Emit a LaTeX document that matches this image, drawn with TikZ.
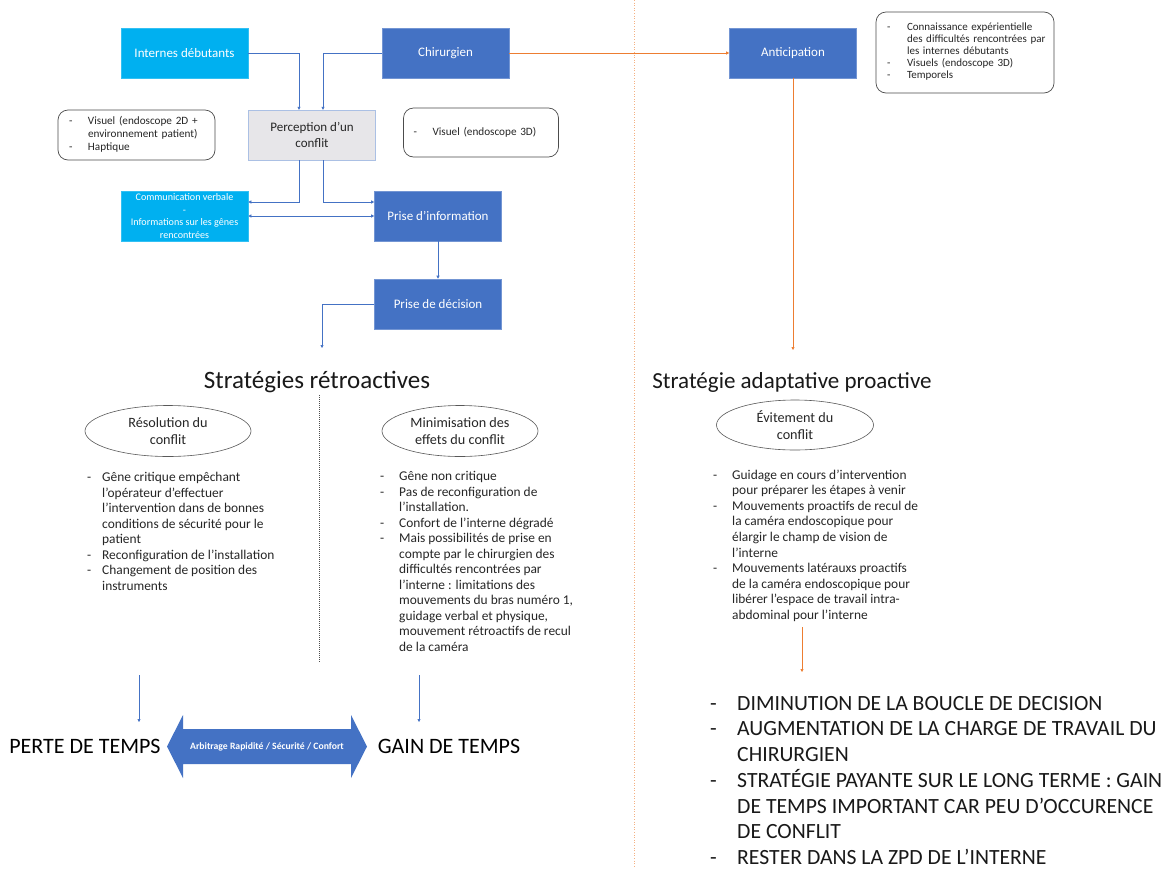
\documentclass[tikz,border=0pt]{standalone}
\usepackage{fontspec}
\setmainfont{Carlito}
\usepackage{tikz}
\usetikzlibrary{shapes}
\usetikzlibrary{arrows.meta}

\definecolor{chirblue}{HTML}{4472C4}
\definecolor{intcyan}{HTML}{00B0F0}
\definecolor{antorange}{HTML}{ED7D31}
\definecolor{sepline}{HTML}{F4B183}
\definecolor{percgray}{HTML}{E7E6E9}

\begin{document}
\begin{tikzpicture}[x=1pt, y=-1pt,
      box/.style = {minimum width=127pt, minimum height=50pt, inner sep=2pt,
                    align=center, text=white, font=\fontsize{13}{15}\selectfont},
      bleu/.style = {box, fill=chirblue, draw=chirblue!75!white, line width=0.6pt},
      clair/.style = {box, fill=intcyan, draw=intcyan!80!white, line width=0.6pt},
      note/.style = {draw=black!70, line width=0.7pt, rounded corners=10pt,
                     inner xsep=11pt, inner ysep=0pt, align=left, text=black!85},
      bulle/.style = {ellipse, draw=black!65, line width=0.6pt, inner sep=0pt,
                      align=center, text=black!85, font=\fontsize{14.2}{17}\selectfont},
      liste/.style = {anchor=north west, inner sep=0pt, align=left, text=black!85},
      titre/.style = {anchor=base, text=black!90, font=\fontsize{25}{29}\selectfont},
      lien/.style = {draw=chirblue, line width=0.6pt, -{Triangle[length=3pt,width=3pt]}},
      pro/.style = {draw=antorange, line width=0.6pt, -{Triangle[length=3pt,width=3pt]}}]

      \fill[white] (0,0) rectangle (1172,868);
      \useasboundingbox (0,0) rectangle (1172,868);

      % separators
      \draw[sepline, line width=0.6pt, dotted] (634,0) -- (634,868);
      \draw[black!70, line width=0.6pt, dash pattern=on 1pt off 1pt] (319,395) -- (319,663);

      % top of the diagram
      \node[clair] (internes) at (184.5,53) {Internes débutants};
      \node[bleu] (chirurgien) at (445.5,53) {Chirurgien};
      \node[bleu] (anticipation) at (793,53) {Anticipation};

      \node[note, text width=156pt, minimum height=81pt,
            font=\fontsize{11}{12}\selectfont] (connaissance) at (965,52.5) {%
        \begin{tabular}{@{}p{20pt}@{}l@{}}
          - & Connaissance expérientielle\\
            & des difficultés rencontrées par\\
            & les internes débutants\\
          - & Visuels (endoscope 3D)\\
          - & Temporels
        \end{tabular}};

      \node[note, text width=135pt, minimum height=50pt,
            font=\fontsize{11.2}{13}\selectfont] (visuelA) at (136.5,135) {%
        \begin{tabular}{@{}p{19pt}@{}l@{}}
          - & Visuel (endoscope 2D +\\
            & environnement patient)\\
          - & Haptique
        \end{tabular}};

      \node[box, fill=percgray, draw=chirblue!45, text=black!85,
            font=\fontsize{13}{16}\selectfont] (perception) at (312,135) {Perception d’un\\conflit};

      \node[note, text width=135pt, minimum height=49pt, inner xsep=10pt,
            font=\fontsize{11.2}{13}\selectfont] (visuelB) at (481,132.5) {%
        \begin{tabular}{@{}p{19pt}@{}l@{}}
          - & Visuel (endoscope 3D)
        \end{tabular}};

      \node[clair, font=\fontsize{10.1}{12.5}\selectfont] (comm) at (184.5,216)
            {Communication verbale\\-\\Informations sur les gênes\\rencontrées};
      \node[bleu] (info) at (438,216) {Prise d’information};
      \node[bleu] (decision) at (438,304) {Prise de décision};

      \coordinate (retroin) at (322,348);
      \coordinate (proin) at (793,350);
      \coordinate (proA) at (802,627);
      \coordinate (proB) at (802,672);

      \draw[lien] (internes.east) -| ([xshift=-13pt]perception.north);
      \draw[lien] (chirurgien.west) -| ([xshift=11pt]perception.north);
      \draw[lien] ([xshift=-13pt]perception.south) |- ([yshift=14pt]comm.east);
      \draw[lien] ([xshift=11pt]perception.south) |- ([yshift=14pt]info.west);
      \draw[lien, {Triangle[length=3pt,width=3pt]}-{Triangle[length=3pt,width=3pt]}]
            (comm.east) -- (info.west);
      \draw[lien] (info) -- (decision);
      \draw[lien] (decision.west) -| (retroin);
      \draw[pro] (chirurgien) -- (anticipation);
      \draw[pro] (anticipation) -- (proin);
      \draw[pro] (proA) -- (proB);

      % strategies
      \node[titre] (retro) at (317,388) {Stratégies rétroactives};
      \node[titre, font=\fontsize{23}{27}\selectfont] (proact) at (792,388) {Stratégie adaptative proactive};

      \node[bulle, minimum width=166pt, minimum height=51pt] (resolution) at (168,431)
            {Résolution du\\conflit};
      \node[bulle, minimum width=156pt, minimum height=51pt] (minimisation) at (460,431)
            {Minimisation des\\effets du conflit};
      \node[bulle, minimum width=157pt, minimum height=50pt] (evitement) at (795,425)
            {Évitement du\\conflit};

      \node[liste, font=\fontsize{13.4}{15.5}\selectfont] (listeA) at (87,470.5) {%
        \begin{tabular}{@{}p{15pt}@{}l@{}}
          - & Gêne critique empêchant\\
            & l’opérateur d’effectuer\\
            & l’intervention dans de bonnes\\
            & conditions de sécurité pour le\\
            & patient\\
          - & Reconfiguration de l’installation\\
          - & Changement de position des\\
            & instruments
        \end{tabular}};

      \node[liste, font=\fontsize{13.4}{15.5}\selectfont] (listeB) at (380,469.5) {%
        \begin{tabular}{@{}p{19pt}@{}l@{}}
          - & Gêne non critique\\
          - & Pas de reconfiguration de\\
            & l’installation.\\
          - & Confort de l’interne dégradé\\
          - & Mais possibilités de prise en\\
            & compte par le chirurgien des\\
            & difficultés rencontrées par\\
            & l’interne : limitations des\\
            & mouvements du bras numéro 1,\\
            & guidage verbal et physique,\\
            & mouvement rétroactifs de recul\\
            & de la caméra
        \end{tabular}};

      \node[liste, font=\fontsize{13.4}{15.6}\selectfont] (listeC) at (713,468) {%
        \begin{tabular}{@{}p{19pt}@{}l@{}}
          - & Guidage en cours d’intervention\\
            & pour préparer les étapes à venir\\
          - & Mouvements proactifs de recul de\\
            & la caméra endoscopique pour\\
            & élargir le champ de vision de\\
            & l’interne\\
          - & Mouvements latérauxs proactifs\\
            & de la caméra endoscopique pour\\
            & libérer l’espace de travail intra-\\
            & abdominal pour l’interne
        \end{tabular}};

      % outcomes
      \coordinate (perteA) at (139,675);
      \coordinate (perteB) at (139,722);
      \coordinate (gainA) at (419,675);
      \coordinate (gainB) at (419,722);
      \draw[lien] (perteA) -- (perteB);
      \draw[lien] (gainA) -- (gainB);

      \node[text=black, font=\fontsize{22}{26}\selectfont] (perte) at (85,746) {PERTE DE TEMPS};
      \node[text=black, font=\fontsize{22}{26}\selectfont] (gain) at (449,746) {GAIN DE TEMPS};

      \fill[chirblue] (167,746.5) -- (183,715) -- (183,729) -- (351,729) -- (351,715)
            -- (367,746.5) -- (351,778) -- (351,764) -- (183,764) -- (183,778) -- cycle;
      \node[text=white, font=\bfseries\fontsize{9.7}{11}\selectfont] (arbitrage) at (267,746.5)
            {Arbitrage Rapidité / Sécurité / Confort};

      \node[liste, text=black!90, font=\fontsize{21.7}{25.7}\selectfont] (listeD) at (710,692) {%
        \begin{tabular}{@{}p{27pt}@{}l@{}}
          - & DIMINUTION DE LA BOUCLE DE DECISION\\
          - & AUGMENTATION DE LA CHARGE DE TRAVAIL DU\\
            & CHIRURGIEN\\
          - & STRATÉGIE PAYANTE SUR LE LONG TERME : GAIN\\
            & DE TEMPS IMPORTANT CAR PEU D’OCCURENCE\\
            & DE CONFLIT\\
          - & RESTER DANS LA ZPD DE L’INTERNE
        \end{tabular}};
\end{tikzpicture}
\end{document}
